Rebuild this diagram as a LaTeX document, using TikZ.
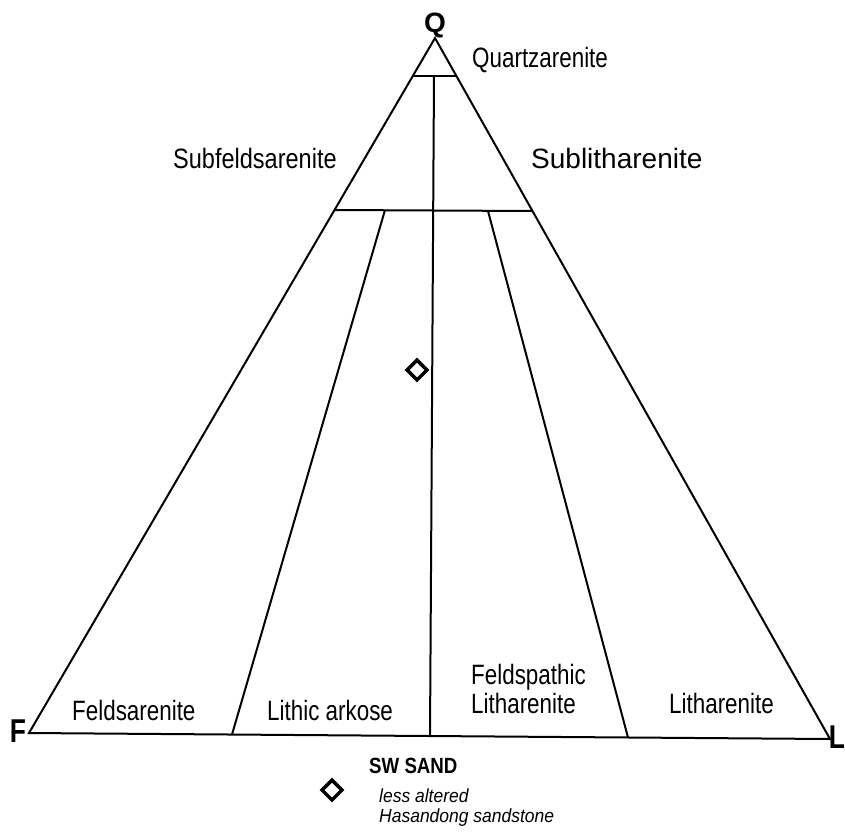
\documentclass[tikz,border=0pt]{standalone}
\usepackage{fontspec}
\setmainfont{Liberation Sans}
\newfontfamily\narrowfont[FakeStretch=0.8]{Liberation Sans}
\newfontfamily\legfont[FakeStretch=0.85]{Liberation Sans}
\newfontfamily\itfont[FakeStretch=0.92]{Liberation Sans}
\begin{document}
\begin{tikzpicture}[x=1pt,y=-1pt,
  edge/.style={line width=2pt},
  lab/.style={inner sep=0pt, anchor=base west, font=\narrowfont\fontsize{28}{29}\selectfont},
  corner/.style={inner sep=0pt, font=\narrowfont\bfseries\fontsize{33}{33}\selectfont, anchor=base},
  legit/.style={inner sep=0pt, anchor=base west, font=\itfont\itshape\fontsize{19}{20}\selectfont},
  marker/.style={draw, rotate=45, minimum size=14pt, inner sep=0pt, line width=3.4pt}]
\useasboundingbox (0,0) rectangle (845,835);
% vertices
\coordinate (Q) at (435,38);
\coordinate (F) at (29,733);
\coordinate (L) at (830,739);
% quartzarenite bar
\coordinate (qa) at (412.8,76);
\coordinate (qb) at (456.4,76);
% central divider
\coordinate (ct) at (434,76);
\coordinate (cb) at (430,736);
% 75% line
\coordinate (ha) at (334.5,210);
\coordinate (hb) at (532.5,211);
\coordinate (la) at (385,210);
\coordinate (lb) at (232,734.5);
\coordinate (ra) at (488,211);
\coordinate (rb) at (628,737.5);
\draw[edge, line join=miter] (F) -- (Q) -- (L) -- cycle;
\draw[edge] (qa) -- (qb);
\draw[edge] (ct) -- (cb);
\draw[edge] (ha) -- (hb);
\draw[edge] (la) -- (lb);
\draw[edge] (ra) -- (rb);
% corner labels
\node[corner, font=\bfseries\fontsize{28}{28}\selectfont] (lq) at (435,32) {Q};
\node[corner] (lf) at (18,742) {F};
\node[corner] (ll) at (837,748) {L};
% field labels
\node[lab] (t1) at (472,67) {Quartzarenite};
\node[lab] (t2) at (173,168) {\scalebox{1.05}[1]{Subfeldsarenite}};
\node[lab] (t3) at (531,168) {\scalebox{1.25}[1]{Sublitharenite}};
\node[lab] (t4) at (72,720) {Feldsarenite};
\node[lab] (t5) at (267,720) {Lithic arkose};
\node[lab] (t6) at (471,684) {Feldspathic};
\node[lab] (t7) at (471,713) {Litharenite};
\node[lab] (t8) at (669,713) {Litharenite};
% data point
\node[marker] (pt) at (417,370) {};
% legend
\node[inner sep=0pt, anchor=base west, font=\legfont\bfseries\fontsize{22}{22}\selectfont] (lg) at (369,773) {SW SAND};
\node[marker] (lgm) at (332,790) {};
\node[legit] (lg1) at (379,802) {less altered};
\node[legit] (lg2) at (379,822) {Hasandong sandstone};
\end{tikzpicture}
\end{document}
